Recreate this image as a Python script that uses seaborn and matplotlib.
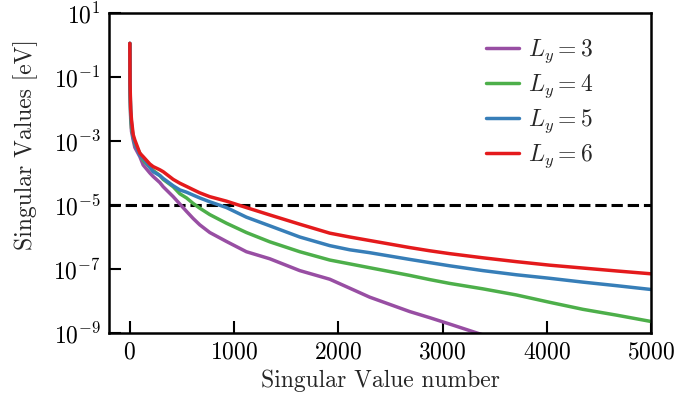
import numpy as np
import pandas as pd
import matplotlib
matplotlib.use("Agg")
import matplotlib.pyplot as plt
import seaborn as sns

# Singular value index at which each spectrum is sampled
sv_index = [0, 2, 8, 16, 32, 48, 96, 128, 192, 224, 288, 320, 416, 480, 544,
            607, 671, 767, 927, 1118, 1342, 1630, 1918, 2110, 2301, 2685,
            2876, 3068, 3387, 3707, 4027, 4346, 4666, 5000]

# log10 of the singular values [eV] for each ladder width
log_sv_ly3 = [0.05, -1.5, -2.3, -2.7, -2.97, -3.2, -3.49, -3.75, -4.0, -4.11,
              -4.3, -4.43, -4.74, -4.97, -5.2, -5.42, -5.62, -5.86, -6.14,
              -6.46, -6.68, -7.05, -7.32, -7.6, -7.88, -8.33, -8.52, -8.72,
              -9.06, -9.36, -9.66, -9.96, -10.26, -10.56]
log_sv_ly4 = [0.05, -1.4, -2.2, -2.6, -2.87, -3.1, -3.38, -3.6, -3.82, -3.92,
              -4.08, -4.2, -4.43, -4.65, -4.78, -4.95, -5.1, -5.3, -5.57,
              -5.86, -6.15, -6.46, -6.72, -6.84, -6.96, -7.2, -7.33, -7.45,
              -7.62, -7.81, -8.04, -8.26, -8.44, -8.64]
log_sv_ly5 = [0.05, -1.3, -2.1, -2.45, -2.9, -3.07, -3.45, -3.54, -3.82, -3.96,
              -4.08, -4.17, -4.4, -4.53, -4.6, -4.69, -4.78, -4.9, -5.08,
              -5.38, -5.65, -6.0, -6.27, -6.4, -6.49, -6.7, -6.8, -6.9,
              -7.05, -7.18, -7.29, -7.41, -7.52, -7.64]
log_sv_ly6 = [0.05, -1.2, -2.0, -2.34, -2.8, -2.97, -3.38, -3.49, -3.72, -3.80,
              -3.9, -3.96, -4.2, -4.32, -4.42, -4.52, -4.62, -4.74, -4.88,
              -5.08, -5.31, -5.6, -5.88, -6.0, -6.11, -6.33, -6.43, -6.52,
              -6.65, -6.77, -6.88, -6.97, -7.06, -7.15]

series_labels = [r"$L_y = 3$", r"$L_y = 4$", r"$L_y = 5$", r"$L_y = 6$"]
series_colors = ["#984ea3", "#4daf4a", "#377eb8", "#e41a1c"]
threshold = 1e-5

frames = []
for label, logs in zip(series_labels, [log_sv_ly3, log_sv_ly4, log_sv_ly5, log_sv_ly6]):
    frames.append(pd.DataFrame({"index": sv_index,
                                "value": 10.0 ** np.array(logs),
                                "series": label}))
df = pd.concat(frames, ignore_index=True)

sns.set_theme(style="ticks")
plt.rcParams.update({
    "font.family": "serif",
    "font.serif": ["cmr10"],
    "mathtext.fontset": "cm",
    "axes.formatter.use_mathtext": True,
    "axes.unicode_minus": False,
    "font.size": 17,
})

fig = plt.figure(figsize=(6.77, 4.0), dpi=100)
ax = fig.add_axes([0.161, 0.1675, 0.8006, 0.8])

sns.lineplot(data=df, x="index", y="value", hue="series",
             hue_order=series_labels, palette=series_colors,
             estimator=None, linewidth=2.5, ax=ax)
ax.axhline(threshold, color="black", linestyle="--", linewidth=2.2, zorder=1)

ax.set_yscale("log")
ax.set_xlim(-200, 5000)
ax.set_ylim(1e-9, 1e1)
ax.set_yticks([1e1, 1e-1, 1e-3, 1e-5, 1e-7, 1e-9])
ax.yaxis.set_minor_locator(matplotlib.ticker.NullLocator())
ax.set_xticks([0, 1000, 2000, 3000, 4000, 5000])

ax.set_xlabel("Singular Value number", fontsize=17, labelpad=4)
ax.set_ylabel("Singular Values [eV]", fontsize=17)
ax.yaxis.set_label_coords(-0.131, 0.59)

for side in ["left", "bottom", "right", "top"]:
    ax.spines[side].set_linewidth(1.8)
    ax.spines[side].set_color("black")
ax.tick_params(axis="both", which="major", direction="in", length=8.5,
               width=1.5, labelsize=17, pad=6, colors="black")

leg = ax.legend(loc="upper right", bbox_to_anchor=(0.933, 0.99), frameon=False,
                fontsize=17, handlelength=1.4, handletextpad=0.4,
                labelspacing=0.32)
for line in leg.get_lines():
    line.set_linewidth(2.5)

fig.savefig("out.png", dpi=100)
